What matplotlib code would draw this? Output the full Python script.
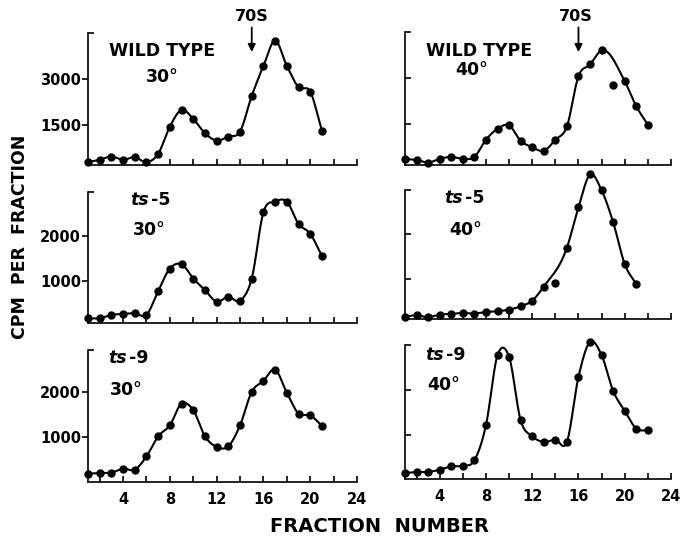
import numpy as np
import matplotlib
matplotlib.use('Agg')
import matplotlib.pyplot as plt

# fraction numbers
frac21 = list(range(1, 22))
frac22 = list(range(1, 23))

# counts per fraction
wt30 = [283, 359, 467, 359, 446, 283, 554, 1446, 1989, 1696, 1228,
        989, 1120, 1283, 2446, 3424, 4250, 3424, 2728, 2587, 1304]
wt40 = [350, 317, 230, 350, 416, 350, 416, 974, 1336, 1445, 942,
        734, 613, 974, 1412, 3055, 3438, 3898, 2781, 2891, 2069, 1467]
ts5_30 = [157, 157, 232, 254, 269, 232, 769, 1276, 1373, 1052, 791,
          530, 642, 552, 1052, 2544, 2783, 2783, 2283, 2059, 1560]
ts5_40 = [148, 185, 140, 200, 215, 237, 222, 259, 274, 311, 385,
          511, 830, 918, 1704, 2608, 3349, 2993, 2274, 1333, 881]
ts9_30 = [185, 200, 207, 296, 274, 570, 1015, 1259, 1741, 1593, 1015,
          778, 793, 1259, 1999, 2244, 2497, 1978, 1519, 1482, 1245]
ts9_40 = [135, 158, 158, 210, 286, 293, 421, 1211, 2790, 2752, 1323,
          962, 835, 887, 835, 2301, 3091, 2790, 1985, 1534, 1135, 1098]

# points that the drawn curve does not pass through
wt40_off = [19]
ts5_40_off = [14]

W, H = 681, 538


def smooth(x, y, n=24):
    # cubic hermite through the points, for the hand drawn look
    x = np.asarray(x, float)
    y = np.asarray(y, float)
    m = np.gradient(y, x)
    xs, ys = [], []
    t = np.linspace(0, 1, n, endpoint=False)
    for i in range(len(x) - 1):
        h = x[i + 1] - x[i]
        h00 = 2 * t**3 - 3 * t**2 + 1
        h10 = t**3 - 2 * t**2 + t
        h01 = -2 * t**3 + 3 * t**2
        h11 = t**3 - t**2
        xs.append(x[i] + t * h)
        ys.append(h00 * y[i] + h10 * h * m[i] + h01 * y[i + 1] + h11 * h * m[i + 1])
    xs.append([x[-1]])
    ys.append([y[-1]])
    return np.concatenate(xs), np.concatenate(ys)


fig = plt.figure(figsize=(W / 100, H / 100), dpi=100)


def px_axes(l, t, r, b):
    return fig.add_axes([l / W, 1 - b / H, (r - l) / W, (b - t) / H])


panels = [
    # box, ylim, yticks, x, y, off, left column?, bottom row?
    ((88, 33, 357, 165), (190, 4500), [1500, 3000], frac21, wt30, [], True, False),
    ((405, 32, 671, 165), (150, 4500), [1500, 3000], frac22, wt40, wt40_off, False, False),
    ((88, 192, 357, 323), (50, 3000), [1000, 2000], frac21, ts5_30, [], True, False),
    ((405, 190, 671, 319), (100, 3000), [1000, 2000], frac21, ts5_40, ts5_40_off, False, False),
    ((88, 350, 357, 482), (0, 2930), [1000, 2000], frac21, ts9_30, [], True, True),
    ((405, 345, 671, 479), (0, 3020), [1000, 2000], frac22, ts9_40, [], False, True),
]

axes = []
for box, ylim, yt, xv, yv, off, left, bottom in panels:
    ax = px_axes(*box)
    axes.append(ax)
    ax.set_xlim(1, 24)
    ax.set_ylim(*ylim)
    for s in ['top', 'right']:
        ax.spines[s].set_visible(False)
    for s in ['left', 'bottom']:
        ax.spines[s].set_linewidth(1.2)
    ax.patch.set_alpha(0)

    xt = list(range(2, 25, 2))
    ax.set_xticks(xt)
    if bottom:
        ax.set_xticklabels([str(v) if v % 4 == 0 else '' for v in xt])
    else:
        ax.set_xticklabels([])
    ax.tick_params(axis='x', direction='in', length=4, width=1.2, pad=7,
                   labelsize=10.5)
    ax.set_yticks(yt)
    ax.set_yticks([ylim[1]], minor=True)
    if left:
        ax.set_yticklabels([str(v) for v in yt])
        ax.tick_params(axis='y', direction='out', length=4, width=1.2, pad=1,
                       labelsize=10.5)
    else:
        ax.set_yticklabels([])
        ax.tick_params(axis='y', direction='in', length=4, width=1.2)
    ax.tick_params(axis='y', which='minor', direction='in', length=4, width=1.2)
    for lab in ax.get_xticklabels() + ax.get_yticklabels():
        lab.set_fontweight('bold')

    cx = [a for a, b in zip(xv, yv) if a not in off]
    cy = [b for a, b in zip(xv, yv) if a not in off]
    sx, sy = smooth(cx, cy)
    ax.plot(sx, sy, color='k', lw=1.5, clip_on=False, zorder=3)
    ax.plot(xv, yv, 'o', color='k', ms=5, clip_on=False, zorder=4)

ax = axes[0]
ax.text(0.275, 0.86, 'WILD TYPE', ha='center', va='center', fontsize=12.5,
        fontweight='bold', transform=ax.transAxes)
ax.text(0.275, 0.67, '30°', ha='center', va='center', fontsize=12.5,
        fontweight='bold', transform=ax.transAxes)
ax.annotate('', xy=(15, 3880), xytext=(15, 4680), annotation_clip=False,
            arrowprops=dict(arrowstyle='-|>', color='k', lw=1.3,
                            mutation_scale=11, shrinkA=0, shrinkB=0))
ax.text(15, 5030, '70S', ha='center', va='center', fontsize=11.5,
        fontweight='bold')

ax = axes[1]
ax.text(0.28, 0.86, 'WILD TYPE', ha='center', va='center', fontsize=12.5,
        fontweight='bold', transform=ax.transAxes)
ax.text(0.25, 0.715, '40°', ha='center', va='center', fontsize=12.5,
        fontweight='bold', transform=ax.transAxes)
ax.annotate('', xy=(16, 3846), xytext=(16, 4650), annotation_clip=False,
            arrowprops=dict(arrowstyle='-|>', color='k', lw=1.3,
                            mutation_scale=11, shrinkA=0, shrinkB=0))
ax.text(15.8, 5000, '70S', ha='center', va='center', fontsize=11.5,
        fontweight='bold')

labels = [
    (axes[2], 0.156, 0.94, 0.167, 0.71, '5', '30°'),
    (axes[3], 0.149, 0.94, 0.167, 0.69, '5', '40°'),
    (axes[4], 0.075, 0.94, 0.082, 0.70, '9', '30°'),
    (axes[5], 0.075, 0.925, 0.082, 0.70, '9', '40°'),
]
for ax, x1, y1, x2, y2, num, temp in labels:
    t1 = ax.text(x1, y1, 'ts', ha='left', va='center', fontsize=12.5,
                 fontweight='bold', style='italic', transform=ax.transAxes)
    ax.annotate('-' + num, xy=(1, 0.5), xycoords=t1, xytext=(1.5, 0),
                textcoords='offset points', ha='left', va='center',
                fontsize=12.5, fontweight='bold')
    ax.text(x2, y2, temp, ha='left', va='center', fontsize=12.5,
            fontweight='bold', transform=ax.transAxes)

fig.text(20 / W, 1 - 237 / H, 'CPM  PER  FRACTION', rotation=90, ha='center',
         va='center', fontsize=12.5, fontweight='bold')
fig.text(380 / W, 1 - 527 / H, 'FRACTION  NUMBER', ha='center', va='center',
         fontsize=14, fontweight='bold')

fig.savefig('out.png', dpi=100)
